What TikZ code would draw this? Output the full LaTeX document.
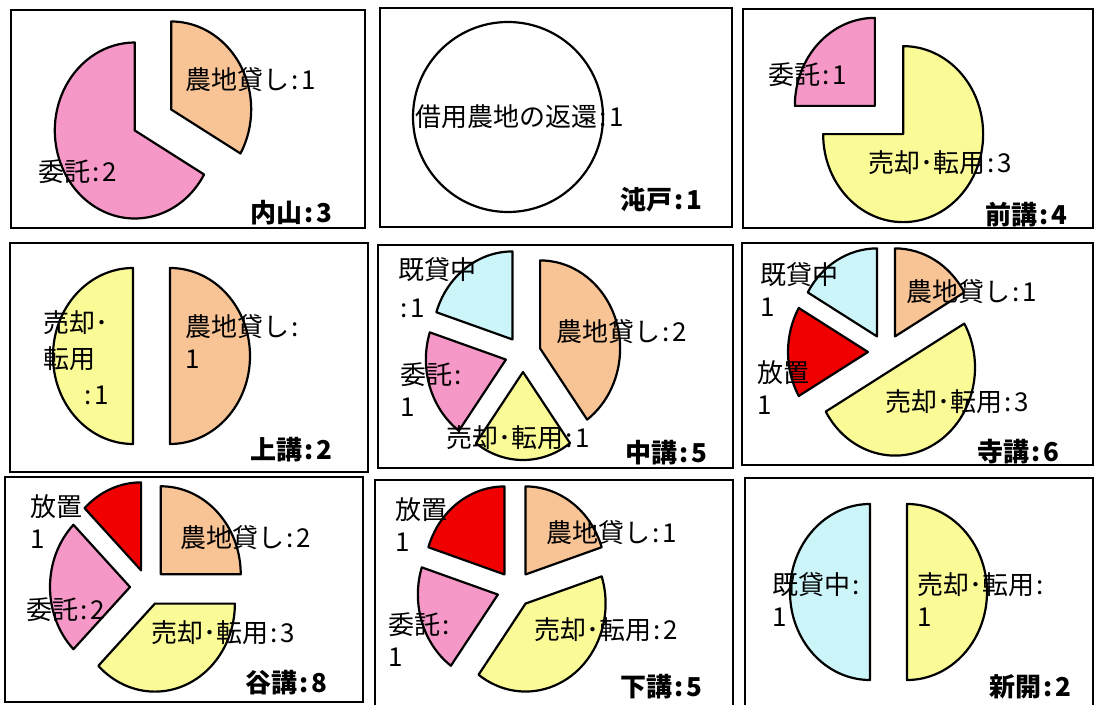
\documentclass[tikz,border=0pt]{standalone}
\usepackage{fontspec}
\setmainfont{Noto Sans CJK JP}
\usetikzlibrary{calc}
\definecolor{itakupink}{RGB}{245,152,200}
\definecolor{kashiorange}{RGB}{248,196,150}
\definecolor{baikyellow}{RGB}{250,250,150}
\definecolor{kikashicyan}{RGB}{204,245,250}
\definecolor{hochired}{RGB}{240,0,0}

\newcommand{\kolon}{\kern2pt:\kern3pt}

% colour, centre, explode, start angle, end angle
\newcommand{\pieslice}[5]{%
  \draw[slice, fill=#1] ($(#2)+({(#4+#5)/2}:#3)$) -- ++(#4:80 and 88)
    arc[start angle=#4, end angle=#5, x radius=80, y radius=88] -- cycle;}

\begin{document}
\begin{tikzpicture}[x=1pt, y=1pt,
  panel/.style={draw=black, line width=1.5pt},
  slice/.style={draw=black, line width=2.2pt, line join=round},
  lbl/.style={font=\fontsize{26}{32}\selectfont, inner sep=0pt},
  mlbl/.style={lbl, align=left, anchor=north west},
  ttl/.style={font=\fontsize{26}{30}\selectfont\bfseries, inner sep=0pt, anchor=east}
]
  \useasboundingbox (0,0) rectangle (1094,704);

  % frames
  \draw[panel] (11,476) rectangle (365,694);
  \draw[panel] (380,477) rectangle (732,696);
  \draw[panel] (743,476) rectangle (1093,695);
  \draw[panel] (10,232) rectangle (368,461);
  \draw[panel] (378,236) rectangle (733,459);
  \draw[panel] (742,239) rectangle (1093,461);
  \draw[panel] (5,2) rectangle (363,227);
  \draw[panel] (375,-3) rectangle (733,224);
  \draw[panel] (745,-3) rectangle (1093,226);

  \coordinate (uchiyama) at (153,584);
  \coordinate (kakedo) at (508,587);
  \coordinate (maeko) at (889,584);
  \coordinate (kamiko) at (151.5,348);
  \coordinate (nakako) at (523,350);
  \coordinate (terako) at (886,352);
  \coordinate (taniko) at (148,117);
  \coordinate (shimoko) at (515,115);
  \coordinate (shinkai) at (888.5,112);

  % pies
  \pieslice{kashiorange}{uchiyama}{21}{90}{-30}
  \pieslice{itakupink}{uchiyama}{21}{-30}{-270}

  \draw[slice, fill=white] (kakedo) circle[radius=95];

  \pieslice{baikyellow}{maeko}{20}{90}{-180}
  \pieslice{itakupink}{maeko}{20}{-180}{-270}

  \pieslice{kashiorange}{kamiko}{18.5}{90}{-90}
  \pieslice{baikyellow}{kamiko}{18.5}{-90}{-270}

  \pieslice{kashiorange}{nakako}{18}{90}{-54}
  \pieslice{baikyellow}{nakako}{18}{-54}{-126}
  \pieslice{itakupink}{nakako}{18}{-126}{-198}
  \pieslice{kikashicyan}{nakako}{18}{-198}{-270}

  \pieslice{kashiorange}{terako}{18}{90}{30}
  \pieslice{baikyellow}{terako}{18}{30}{-150}
  \pieslice{hochired}{terako}{18}{-150}{-210}
  \pieslice{kikashicyan}{terako}{18}{-210}{-270}

  \pieslice{kashiorange}{taniko}{18}{90}{0}
  \pieslice{baikyellow}{taniko}{18}{0}{-135}
  \pieslice{itakupink}{taniko}{18}{-135}{-225}
  \pieslice{hochired}{taniko}{18}{-225}{-270}

  \pieslice{kashiorange}{shimoko}{18}{90}{18}
  \pieslice{baikyellow}{shimoko}{18}{18}{-126}
  \pieslice{itakupink}{shimoko}{18}{-126}{-198}
  \pieslice{hochired}{shimoko}{18}{-198}{-270}

  \pieslice{baikyellow}{shinkai}{18.5}{90}{-90}
  \pieslice{kikashicyan}{shinkai}{18.5}{-90}{-270}

  % labels
  \node[lbl] (uchiyama-kashi) at (251,624) {農地貸し\kolon1};
  \node[lbl] (uchiyama-itaku) at (78,532) {委託\kolon2};
  \node[ttl] (uchiyama-t) at (333,491) {内山\kolon3};

  \node[lbl] (kakedo-henkan) at (520,587) {借用農地の返還\kolon1};
  \node[ttl] (kakedo-t) at (703,504) {沌戸\kolon1};

  \node[lbl] (maeko-itaku) at (808,629) {委託\kolon1};
  \node[lbl] (maeko-baik) at (940,541) {売却･転用\kolon3};
  \node[ttl] (maeko-t) at (1068,489) {前講\kolon4};

  \node[mlbl] (kamiko-baik) at (43,394) {売却･\\[4pt]転用\\[4pt]\hspace*{1.5em}\kolon1};
  \node[mlbl] (kamiko-kashi) at (185,390) {農地貸し\kolon\\1};
  \node[ttl] (kamiko-t) at (333,254) {上講\kolon2};

  \node[mlbl] (nakako-kikashi) at (398,447) {既貸中\\[6pt]\kolon1};
  \node[mlbl] (nakako-itaku) at (400,342) {委託\kolon\\1};
  \node[lbl] (nakako-baik) at (518,266) {売却･転用\kolon1};
  \node[lbl] (nakako-kashi) at (622,372) {農地貸し\kolon2};
  \node[ttl] (nakako-t) at (708,251) {中講\kolon5};

  \node[mlbl] (terako-kikashi) at (760,442) {既貸中\\1};
  \node[mlbl] (terako-hochi) at (757,344) {放置\\1};
  \node[lbl] (terako-kashi) at (972,412) {農地貸し\kolon1};
  \node[lbl] (terako-baik) at (957,302) {売却･転用\kolon3};
  \node[ttl] (terako-t) at (1060,252) {寺講\kolon6};

  \node[mlbl] (taniko-hochi) at (30,210) {放置\\1};
  \node[lbl] (taniko-itaku) at (66,94) {委託\kolon2};
  \node[lbl] (taniko-kashi) at (246,166) {農地貸し\kolon2};
  \node[lbl] (taniko-baik) at (223,71) {売却･転用\kolon3};
  \node[ttl] (taniko-t) at (328,21) {谷講\kolon8};

  \node[mlbl] (shimoko-hochi) at (395,207) {放置\\1};
  \node[mlbl] (shimoko-itaku) at (388,92) {委託\kolon\\1};
  \node[lbl] (shimoko-kashi) at (612,171) {農地貸し\kolon1};
  \node[lbl] (shimoko-baik) at (606,74) {売却･転用\kolon2};
  \node[ttl] (shimoko-t) at (703,17) {下講\kolon5};

  \node[mlbl] (shinkai-kikashi) at (772,132) {既貸中\kolon\\1};
  \node[mlbl] (shinkai-baik) at (917,132) {売却･転用\kolon\\1};
  \node[ttl] (shinkai-t) at (1072,17) {新開\kolon2};
\end{tikzpicture}
\end{document}
